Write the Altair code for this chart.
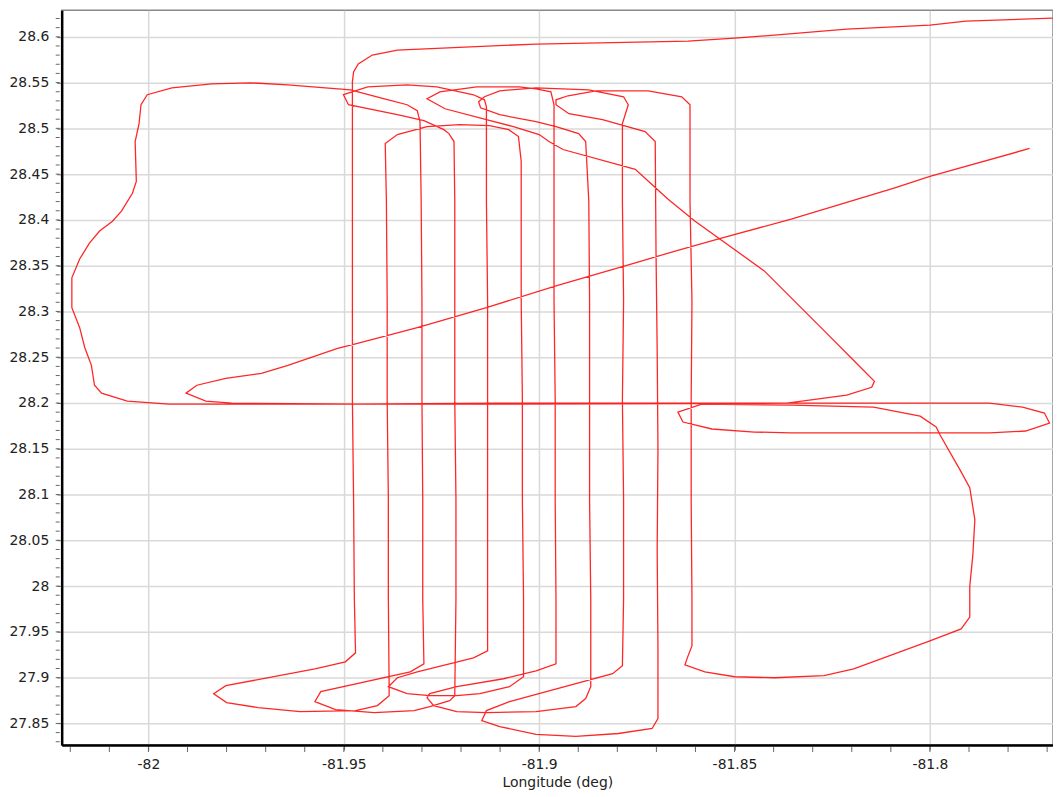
import altair as alt
import pandas as pd

# ---- flight track (lon, lat), in flight order ----
inbound_lon = [-81.7745, -81.8000, -81.8094, -81.8355, -81.8543, -81.8652, -81.8754, -81.8957, -81.9135, -81.9312,
               -81.9465, -81.9516, -81.9643, -81.9711, -81.9802, -81.9876, -81.9904, -81.9853, -81.9787, -81.9465,
               -81.9109, -81.8601, -81.7847, -81.7763, -81.7707, -81.7694, -81.7755, -81.7847, -81.8355, -81.8449,
               -81.8558, -81.8632, -81.8645, -81.8584, -81.8355, -81.8144, -81.8025, -81.7984, -81.7974, -81.7923,
               -81.7898, -81.7885, -81.7890, -81.7898, -81.7898, -81.7920, -81.8000, -81.8195, -81.8271, -81.8398,
               -81.8500, -81.8576, -81.8627, -81.8619, -81.8609]
inbound_lat = [28.4780, 28.4476, 28.4345, 28.4008, 28.3791, 28.3660, 28.3530, 28.3280, 28.3041, 28.2823,
               28.2650, 28.2596, 28.2411, 28.2324, 28.2270, 28.2194, 28.2107, 28.2020, 28.1998, 28.1988,
               28.1998, 28.1998, 28.1998, 28.1955, 28.1890, 28.1781, 28.1694, 28.1673, 28.1673, 28.1683,
               28.1716, 28.1792, 28.1901, 28.1988, 28.1977, 28.1955, 28.1857, 28.1738, 28.1651, 28.1270,
               28.1075, 28.0727, 28.0347, 27.9999, 27.9662, 27.9532, 27.9401, 27.9097, 27.9021, 27.8999,
               27.9010, 27.9064, 27.9140, 27.9238, 27.9347]

east_lon = [-81.8609, -81.8611, -81.8611, -81.8609, -81.8614, -81.8614, -81.8614,
            -81.8635, -81.8721, -81.8855, -81.8926, -81.8957, -81.8957, -81.8924, -81.8838, -81.8729, -81.8703,
            -81.8701, -81.8698, -81.8696, -81.8698, -81.8696, -81.8696,
            -81.8711, -81.8797, -81.8906, -81.9008, -81.9101, -81.9147, -81.9135, -81.9076, -81.8812, -81.8787,
            -81.8784, -81.8784, -81.8787, -81.8784, -81.8787, -81.8787,
            -81.8772, -81.8784, -81.8873, -81.9008, -81.9101, -81.9140, -81.9155, -81.9150, -81.9101, -81.9008,
            -81.8957, -81.8899, -81.8881,
            -81.8873, -81.8871, -81.8871, -81.8871, -81.8868, -81.8868,
            -81.8881, -81.8906, -81.9008, -81.9135, -81.9211, -81.9270, -81.9287, -81.9280, -81.9211, -81.9091,
            -81.9008, -81.8957,
            -81.8957, -81.8959, -81.8959, -81.8962, -81.8962, -81.8962,
            -81.8970, -81.9008, -81.9051, -81.9160, -81.9254, -81.9287, -81.9241, -81.9135, -81.9066, -81.9000,
            -81.8975, -81.8939, -81.8754, -81.8729, -81.8670, -81.8601, -81.8424, -81.8271, -81.8195, -81.8142,
            -81.8149, -81.8213, -81.8366]
east_lat = [27.9858, 28.0945, 28.2031, 28.3117, 28.4204, 28.4747, 28.5258,
            28.5345, 28.5410, 28.5410, 28.5356, 28.5312, 28.5258, 28.5160, 28.5095, 28.4965, 28.4856,
            28.3660, 28.2574, 28.1488, 28.0401, 27.9315, 27.8553,
            27.8445, 27.8390, 27.8358, 27.8380, 27.8466, 27.8532, 27.8640, 27.8738, 27.9043, 27.9130,
            27.9858, 28.0945, 28.2031, 28.3117, 28.4204, 28.5051,
            28.5258, 28.5345, 28.5421, 28.5443, 28.5410, 28.5345, 28.5290, 28.5225, 28.5149, 28.5073,
            28.5019, 28.4943, 28.4856,
            28.4204, 28.3117, 28.2031, 28.0945, 27.9858, 27.8901,
            27.8771, 27.8684, 27.8629, 27.8619, 27.8629, 27.8695, 27.8782, 27.8825, 27.8901, 27.8988,
            27.9075, 27.9151,
            27.9858, 28.0945, 28.2031, 28.3117, 28.4204, 28.5258,
            28.5399, 28.5432, 28.5453, 28.5453, 28.5399, 28.5323, 28.5214, 28.5095, 28.5019, 28.4932,
            28.4856, 28.4769, 28.4552, 28.4454, 28.4226, 28.3986, 28.3443, 28.2791, 28.2465, 28.2237,
            28.2172, 28.2085, 28.1998]

loop_lon = [-81.9109, -81.9617, -81.9947, -82.0054, -82.0120, -82.0138, -82.0146, -82.0163, -82.0176, -82.0196,
            -82.0196, -82.0176, -82.0151, -82.0125, -82.0092, -82.0069, -82.0041, -82.0031, -82.0034, -82.0024,
            -82.0019, -82.0003, -81.9940, -81.9838, -81.9737, -81.9643, -81.9483, -81.9396, -81.9338, -81.9312,
            -81.9305]
loop_lat = [28.1988, 28.1988, 28.1988, 28.2020, 28.2107, 28.2194, 28.2411, 28.2606, 28.2823, 28.3041,
            28.3367, 28.3573, 28.3747, 28.3878, 28.3986, 28.4095, 28.4291, 28.4421, 28.4856, 28.5051,
            28.5258, 28.5367, 28.5443, 28.5486, 28.5497, 28.5475, 28.5421, 28.5323, 28.5258, 28.5193,
            28.5073]

west_lon = [-81.9302, -81.9300, -81.9300, -81.9298, -81.9298, -81.9295,
            -81.9330, -81.9559, -81.9574, -81.9521, -81.9422, -81.9320, -81.9280, -81.9229, -81.9216,
            -81.9213, -81.9213, -81.9216, -81.9216, -81.9216, -81.9218,
            -81.9231, -81.9244, -81.9295, -81.9363, -81.9488, -81.9501, -81.9439, -81.9338, -81.9262, -81.9168,
            -81.9140, -81.9135,
            -81.9135, -81.9132, -81.9132, -81.9132, -81.9132, -81.9132,
            -81.9168, -81.9312, -81.9363, -81.9386, -81.9338, -81.9280, -81.9211, -81.9152, -81.9076, -81.9040,
            -81.9040, -81.9043, -81.9043, -81.9046, -81.9046, -81.9046,
            -81.9053, -81.9078, -81.9127, -81.9203, -81.9287, -81.9363, -81.9394,
            -81.9391, -81.9389, -81.9389, -81.9386, -81.9386, -81.9384,
            -81.9384, -81.9414, -81.9470, -81.9612, -81.9719, -81.9800, -81.9833, -81.9802, -81.9574, -81.9496,
            -81.9470,
            -81.9473, -81.9475, -81.9478, -81.9478, -81.9478, -81.9478]
west_lat = [28.4204, 28.3117, 28.2031, 28.0945, 27.9858, 27.9151,
            27.9064, 27.8847, 27.8738, 27.8651, 27.8619, 27.8640, 27.8684, 27.8749, 27.8803,
            27.9858, 28.0945, 28.2031, 28.3117, 28.4204, 28.4856,
            28.4943, 28.4986, 28.5084, 28.5149, 28.5258, 28.5367, 28.5453, 28.5475, 28.5453, 28.5367,
            28.5312, 28.5236,
            28.4204, 28.3117, 28.2031, 28.0945, 27.9858, 27.9293,
            27.9217, 27.9064, 27.8999, 27.8901, 27.8825, 27.8803, 27.8803, 27.8825, 27.8901, 27.9010,
            27.9858, 28.0945, 28.2031, 28.3117, 28.4204, 28.4639,
            28.4910, 28.4986, 28.5029, 28.5040, 28.5019, 28.4932, 28.4834,
            28.4204, 28.3117, 28.2031, 28.0945, 27.9858, 27.8901,
            27.8803, 27.8695, 27.8640, 27.8629, 27.8673, 27.8727, 27.8825, 27.8912, 27.9097, 27.9173,
            27.9271,
            27.9858, 28.0945, 28.2031, 28.3117, 28.4204, 28.5508]

outbound_lon = [-81.9475, -81.9463, -81.9427, -81.9363, -81.9008, -81.8619, -81.8500, -81.8398, -81.8213,
                -81.8000, -81.7908, -81.7686]
outbound_lat = [28.5616, 28.5703, 28.5801, 28.5855, 28.5921, 28.5953, 28.5986, 28.6018, 28.6084,
                28.6127, 28.6171, 28.6203]

# ---- axes ----
x_labels = [-82.0, -81.95, -81.9, -81.85, -81.8]
y_labels = [27.85, 27.9, 27.95, 28.0, 28.05, 28.1, 28.15, 28.2, 28.25, 28.3, 28.35, 28.4, 28.45, 28.5, 28.55, 28.6]
x_minor = [round(-82.02 + 0.01 * i, 2) for i in range(26)]
y_minor = [round(27.83 + 0.01 * i, 2) for i in range(80)]
X_DOMAIN = [-82.0222, -81.7685]
Y_DOMAIN = [27.8264, 28.629]

lons = inbound_lon + east_lon + loop_lon + west_lon + outbound_lon
lats = inbound_lat + east_lat + loop_lat + west_lat + outbound_lat
track = pd.DataFrame({"lon": lons, "lat": lats})
track["i"] = range(len(track))

xs = alt.Scale(domain=X_DOMAIN, zero=False, nice=False)
ys = alt.Scale(domain=Y_DOMAIN, zero=False, nice=False)
x_axis = alt.Axis(values=x_labels, format=".2~f", labelExpr="replace(datum.label, '\u2212', '-')")
y_axis = alt.Axis(values=y_labels, format=".2~f")

line = alt.Chart(track).mark_line(color="#ff0000", strokeWidth=1.3, opacity=0.85, clip=True).encode(
    x=alt.X("lon:Q", scale=xs, title="Longitude (deg)", axis=x_axis),
    y=alt.Y("lat:Q", scale=ys, title=None, axis=y_axis),
    order="i:Q",
)

xt = alt.Chart(pd.DataFrame({"lon": x_minor})).mark_rule(color="#666", strokeWidth=1).encode(
    x=alt.X("lon:Q", scale=xs, title="Longitude (deg)", axis=x_axis), y=alt.value(741), y2=alt.value(746))
yt = alt.Chart(pd.DataFrame({"lat": y_minor})).mark_rule(color="#666", strokeWidth=1).encode(
    y=alt.Y("lat:Q", scale=ys, title=None, axis=y_axis), x=alt.value(-6), x2=alt.value(-2))

chart = alt.layer(line, xt, yt).properties(
    width=997, height=739,
    autosize=alt.AutoSizeParams(type="none"),
    padding={"left": 54, "top": 0, "right": 0, "bottom": 50},
).configure_view(
    stroke="#888888", strokeWidth=1.5
).configure_axis(
    labelFont="DejaVu Sans", labelFontSize=14, labelColor="#222222",
    titleFont="DejaVu Sans", titleFontSize=14, titleColor="#222222", titleFontWeight="normal",
    gridColor="#d9d9d9", gridWidth=1.5, domainColor="#000000", domainWidth=2.5,
    tickColor="#666666", tickSize=5,
).configure_axisX(labelPadding=8, titlePadding=4).configure_axisY(labelPadding=8)

chart.save("out.html", embed_options={"renderer": "svg", "actions": False})
